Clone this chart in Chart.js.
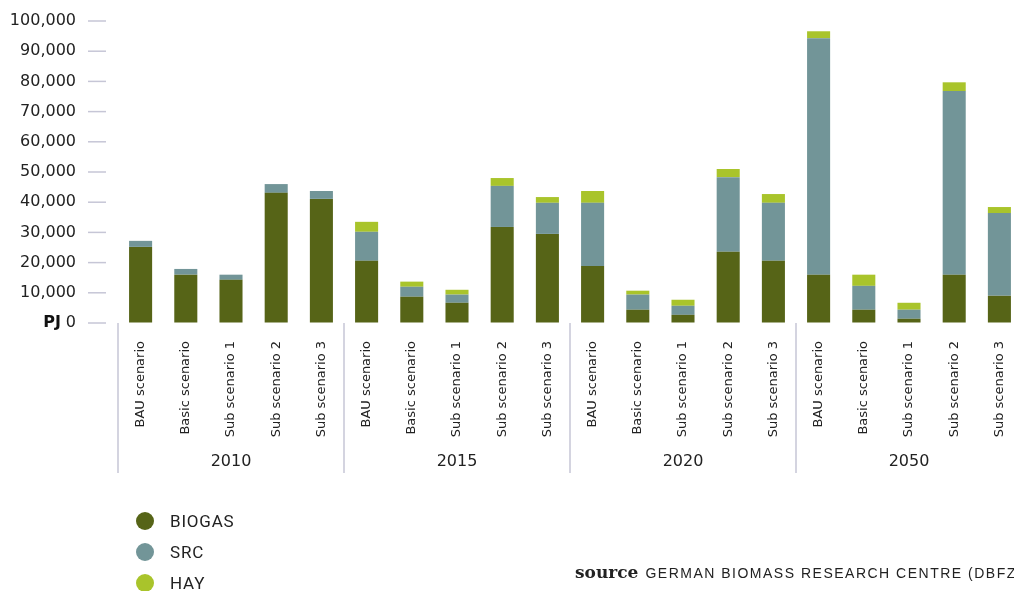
<!DOCTYPE html>
<html>
<head>
<meta charset="utf-8">
<script src="https://cdn.jsdelivr.net/npm/chart.js@4/dist/chart.umd.min.js"></script>
<style>
  html, body { margin: 0; padding: 0; background: #fff; overflow: hidden; }
  #wrap { position: relative; width: 1014px; height: 591px; overflow: hidden; }
  #myChart { position: absolute; left: 0; top: 0; }
  #legend { position: absolute; left: 136px; top: 505px; font-family: Roboto, sans-serif; font-size: 17px; letter-spacing: 0.8px; color: #222; }
  #legend .item { height: 31px; display: flex; align-items: center; }
  #legend .dot { width: 18px; height: 18px; border-radius: 50%; margin-right: 16px; }
  #source { position: absolute; left: 575px; top: 562px; white-space: nowrap; color: #222; }
  #source b { font-family: "DejaVu Serif", serif; font-size: 17px; font-weight: bold; margin-right: 7px; }
  #source span { font-family: "Liberation Sans", sans-serif; font-size: 14px; letter-spacing: 1.5px; }
</style>
</head>
<body>
<div id="wrap">
  <canvas id="myChart" width="1025" height="591"></canvas>
  <div id="legend"></div>
  <div id="source"><b>source</b><span>GERMAN BIOMASS RESEARCH CENTRE (DBFZ</span></div>
</div>
<script>
const years = ['2010', '2015', '2020', '2050'];
const scenarios = ['BAU scenario', 'Basic scenario', 'Sub scenario 1', 'Sub scenario 2', 'Sub scenario 3'];

// PJ, per year in scenario order
const biogas = [25.2, 16.0, 14.3, 43.1, 41.1,
                20.6, 8.7, 6.7, 31.8, 29.5,
                18.9, 4.4, 2.7, 23.6, 20.6,
                16.0, 4.4, 1.4, 16.0, 9.0].map(v => v * 1000);
const src    = [2.0, 1.9, 1.7, 2.9, 2.6,
                9.6, 3.3, 2.7, 13.6, 10.3,
                20.9, 5.0, 3.0, 24.7, 19.2,
                78.3, 7.9, 3.0, 60.8, 27.4].map(v => v * 1000);
const hay    = [0, 0, 0, 0, 0,
                3.3, 1.7, 1.6, 2.6, 1.9,
                3.9, 1.3, 2.0, 2.7, 2.9,
                2.3, 3.7, 2.3, 2.9, 2.0].map(v => v * 1000);

const labels = [];
years.forEach(() => scenarios.forEach(s => labels.push(s)));

const data = {
  labels: labels,
  datasets: [
    { label: 'BIOGAS', data: biogas, backgroundColor: '#566417' },
    { label: 'SRC', data: src, backgroundColor: '#729598' },
    { label: 'HAY', data: hay, backgroundColor: '#a9c42b' }
  ]
};

const lineColor = '#c6c6d6';

const groupPlugin = {
  id: 'groups',
  afterDraw(chart) {
    const ctx = chart.ctx;
    const x = chart.scales.x;
    const y = chart.scales.y;
    ctx.save();
    // short tick marks on the value axis
    ctx.strokeStyle = lineColor;
    ctx.lineWidth = 1.5;
    y.ticks.forEach(t => {
      const py = y.getPixelForValue(t.value);
      ctx.beginPath();
      ctx.moveTo(88, py);
      ctx.lineTo(106, py);
      ctx.stroke();
    });
    // unit
    ctx.fillStyle = '#111';
    ctx.font = 'bold 16px "DejaVu Sans"';
    ctx.textAlign = 'right';
    ctx.textBaseline = 'middle';
    ctx.fillText('PJ', 61, y.getPixelForValue(0));
    // year groups
    const half = (x.getPixelForValue(1) - x.getPixelForValue(0)) / 2;
    const bottom = y.getPixelForValue(0);
    ctx.font = '16px "DejaVu Sans"';
    ctx.textAlign = 'center';
    ctx.fillStyle = '#222';
    years.forEach((yr, i) => {
      const first = i * scenarios.length;
      const last = first + scenarios.length - 1;
      const left = x.getPixelForValue(first) - half;
      ctx.beginPath();
      ctx.moveTo(left, bottom);
      ctx.lineTo(left, 473);
      ctx.stroke();
      const mid = (x.getPixelForValue(first) + x.getPixelForValue(last)) / 2;
      ctx.fillText(yr, mid, 462);
    });
    ctx.restore();
  }
};

const config = {
  type: 'bar',
  data: data,
  options: {
    responsive: false,
    animation: false,
    layout: { padding: { top: 21, right: 0, bottom: 0, left: 0 } },
    datasets: { bar: { barPercentage: 0.51, categoryPercentage: 1.0 } },
    plugins: {
      legend: { display: false },
      tooltip: { enabled: false }
    },
    scales: {
      x: {
        stacked: true,
        grid: { display: false },
        border: { display: false },
        ticks: {
          autoSkip: false,
          maxRotation: 90,
          minRotation: 90,
          padding: 10,
          color: '#222',
          font: { family: 'DejaVu Sans', size: 13 }
        },
        afterFit: s => { s.height = 268; }
      },
      y: {
        stacked: true,
        min: 0,
        max: 100000,
        // invisible tick length keeps the labels clear of the plot
        grid: { display: true, drawOnChartArea: false, drawTicks: true, tickLength: 42, color: 'rgba(0,0,0,0)' },
        border: { display: false },
        ticks: {
          stepSize: 10000,
          padding: 0,
          color: '#222',
          font: { family: 'DejaVu Sans', size: 16 },
          callback: v => v.toLocaleString('en-US')
        },
        afterFit: s => { s.width = 118; }
      }
    }
  },
  plugins: [groupPlugin]
};

let ctx = document.getElementById('myChart').getContext('2d');
let chart = new Chart(ctx, config);

const legend = document.getElementById('legend');
data.datasets.forEach(ds => {
  const item = document.createElement('div');
  item.className = 'item';
  const dot = document.createElement('div');
  dot.className = 'dot';
  dot.style.background = ds.backgroundColor;
  item.appendChild(dot);
  item.appendChild(document.createTextNode(ds.label));
  legend.appendChild(item);
});
</script>
</body>
</html>
